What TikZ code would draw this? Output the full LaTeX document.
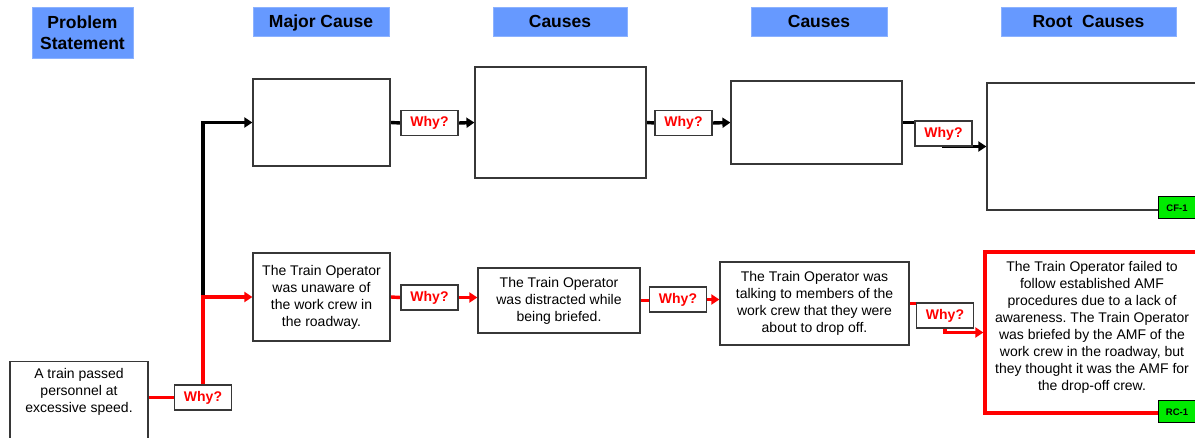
\documentclass[tikz,border=0pt]{standalone}
\usepackage{fontspec}
\setmainfont{Liberation Sans}
\usetikzlibrary{positioning,arrows.meta,backgrounds}
\definecolor{hdrblue}{RGB}{102,153,255}
\definecolor{taggreen}{RGB}{0,235,0}
\definecolor{whyred}{RGB}{255,0,0}
\definecolor{boxline}{RGB}{55,55,55}
\frenchspacing

\tikzset{
	hdr/.style={fill=hdrblue, draw=hdrblue!75!white, line width=0.8pt, inner sep=0pt, align=center, font=\fontsize{17.5}{21}\selectfont\bfseries},
	box/.style={draw=boxline, line width=1.2pt, fill=white, inner sep=0pt, align=center, font=\fontsize{14}{17}\selectfont},
	whybox/.style={draw=boxline, line width=1.1pt, fill=white, inner sep=0pt, minimum width=57pt, minimum height=25pt, text=whyred, font=\fontsize{14}{17}\selectfont\bfseries},
	tag/.style={draw=black, line width=1pt, fill=taggreen, inner sep=0pt, minimum width=37pt, minimum height=22pt, font=\fontsize{9.5}{11}\selectfont\bfseries},
	blk/.style={line width=3.4pt, black},
	rd/.style={line width=3.4pt, whyred}
}

\begin{document}
\begin{tikzpicture}[x=1pt,y=-1pt,>={Triangle[length=8pt,width=10pt]}]
	\useasboundingbox (0,0) rectangle (1195,438);
	% column headers
	\node[hdr, minimum width=101pt, minimum height=51pt] (hps) at (82.5,32.5) {Problem\\Statement};
	\node[hdr, minimum width=136pt, minimum height=29pt, text depth=1pt] (hmc) at (321,21.5) {Major Cause};
	\node[hdr, minimum width=134pt, minimum height=29pt] (hc1) at (560,21.5) {Causes};
	\node[hdr, minimum width=136pt, minimum height=29pt] (hc2) at (819,21.5) {Causes};
	\node[hdr, minimum width=175pt, minimum height=29pt] (hrc) at (1088.5,21.5) {Root\ \ Causes};

	% upper (empty) branch
	\node[box, minimum width=137pt, minimum height=87pt] (t1) at (321.5,122.5) {};
	\node[box, minimum width=171pt, minimum height=111pt] (t2) at (560.5,122.5) {};
	\node[box, minimum width=171pt, minimum height=83pt] (t3) at (816.5,122.5) {};
	\node[box, minimum width=212pt, minimum height=127pt] (t4) at (1093,146.5) {};
	\node[tag] (cf) at (1177,208) {CF-1};
	\node[whybox] (tw1) at (429.5,123) {Why?};
	\node[whybox] (tw2) at (683.5,123) {Why?};
	\node[whybox] (tw3) at (943.5,133.5) {Why?};

	% lower branch
	\node[box, minimum width=138pt, minimum height=100pt, anchor=north] (ps) at (79,361) {};
	\node[box, draw=none, fill=none, below=7pt of ps.north] (pstext) {A train passed\\personnel at\\excessive speed.};
	\node[whybox] (bw0) at (203,397.5) {Why?};
	\node[box, minimum width=137pt, minimum height=88pt] (b1) at (321.5,297) {The Train Operator\\was unaware of\\the work crew in\\the roadway.};
	\node[whybox] (bw1) at (429.5,297.5) {Why?};
	\node[box, minimum width=162pt, minimum height=65pt] (b2) at (559,300.5) {The Train Operator\\was distracted while\\being briefed.};
	\node[whybox] (bw2) at (678,299.5) {Why?};
	\node[box, minimum width=189pt, minimum height=83pt] (b3) at (814.5,303.5) {The Train Operator was\\talking to members of the\\work crew that they were\\about to drop off.};
	\node[whybox] (bw3) at (945,315.5) {Why?};
	\node[box, draw=whyred, line width=3.2pt, minimum width=214pt, minimum height=161pt] (b4) at (1092,332.5) {};
	\node[box, draw=none, fill=none, below=10pt of b4.north] (b4text) {The Train Operator failed to\\follow established AMF\\procedures due to a lack of\\awareness. The Train Operator\\was briefed by the AMF of the\\work crew in the roadway, but\\they thought it was the AMF for\\the drop-off crew.};
	\node[tag] (rc) at (1177,412) {RC-1};

	\begin{scope}[on background layer]
		\draw[blk,->] (bw0.north |- b1.west) -- (bw0.north |- t1.west) -- (t1.west);
		\draw[rd] (ps.east |- bw0.west) -- (bw0.west);
		\draw[rd,->] (bw0.north) -- (bw0.north |- b1.west) -- (b1.west);

		\draw[blk] (t1.east) -- (tw1.west);
		\draw[blk,->] (tw1.east) -- (t2.west);
		\draw[blk] (t2.east) -- (tw2.west);
		\draw[blk,->] (tw2.east) -- (t3.west);
		\draw[blk,->] (t3.east) -- (t3.east -| tw3) -- (tw3 |- t4.west) -- (t4.west);

		\draw[rd] (b1.east) -- (bw1.west);
		\draw[rd,->] (bw1.east) -- (bw1.east -| b2.west);
		\draw[rd] (b2.east) -- (b2.east -| bw2.west);
		\draw[rd,->] (bw2.east) -- (bw2.east -| b3.west);
		\draw[rd,->] (b3.east) -- (b3.east -| bw3) -- (bw3 |- b4.west) -- (b4.west);
	\end{scope}
\end{tikzpicture}
\end{document}
